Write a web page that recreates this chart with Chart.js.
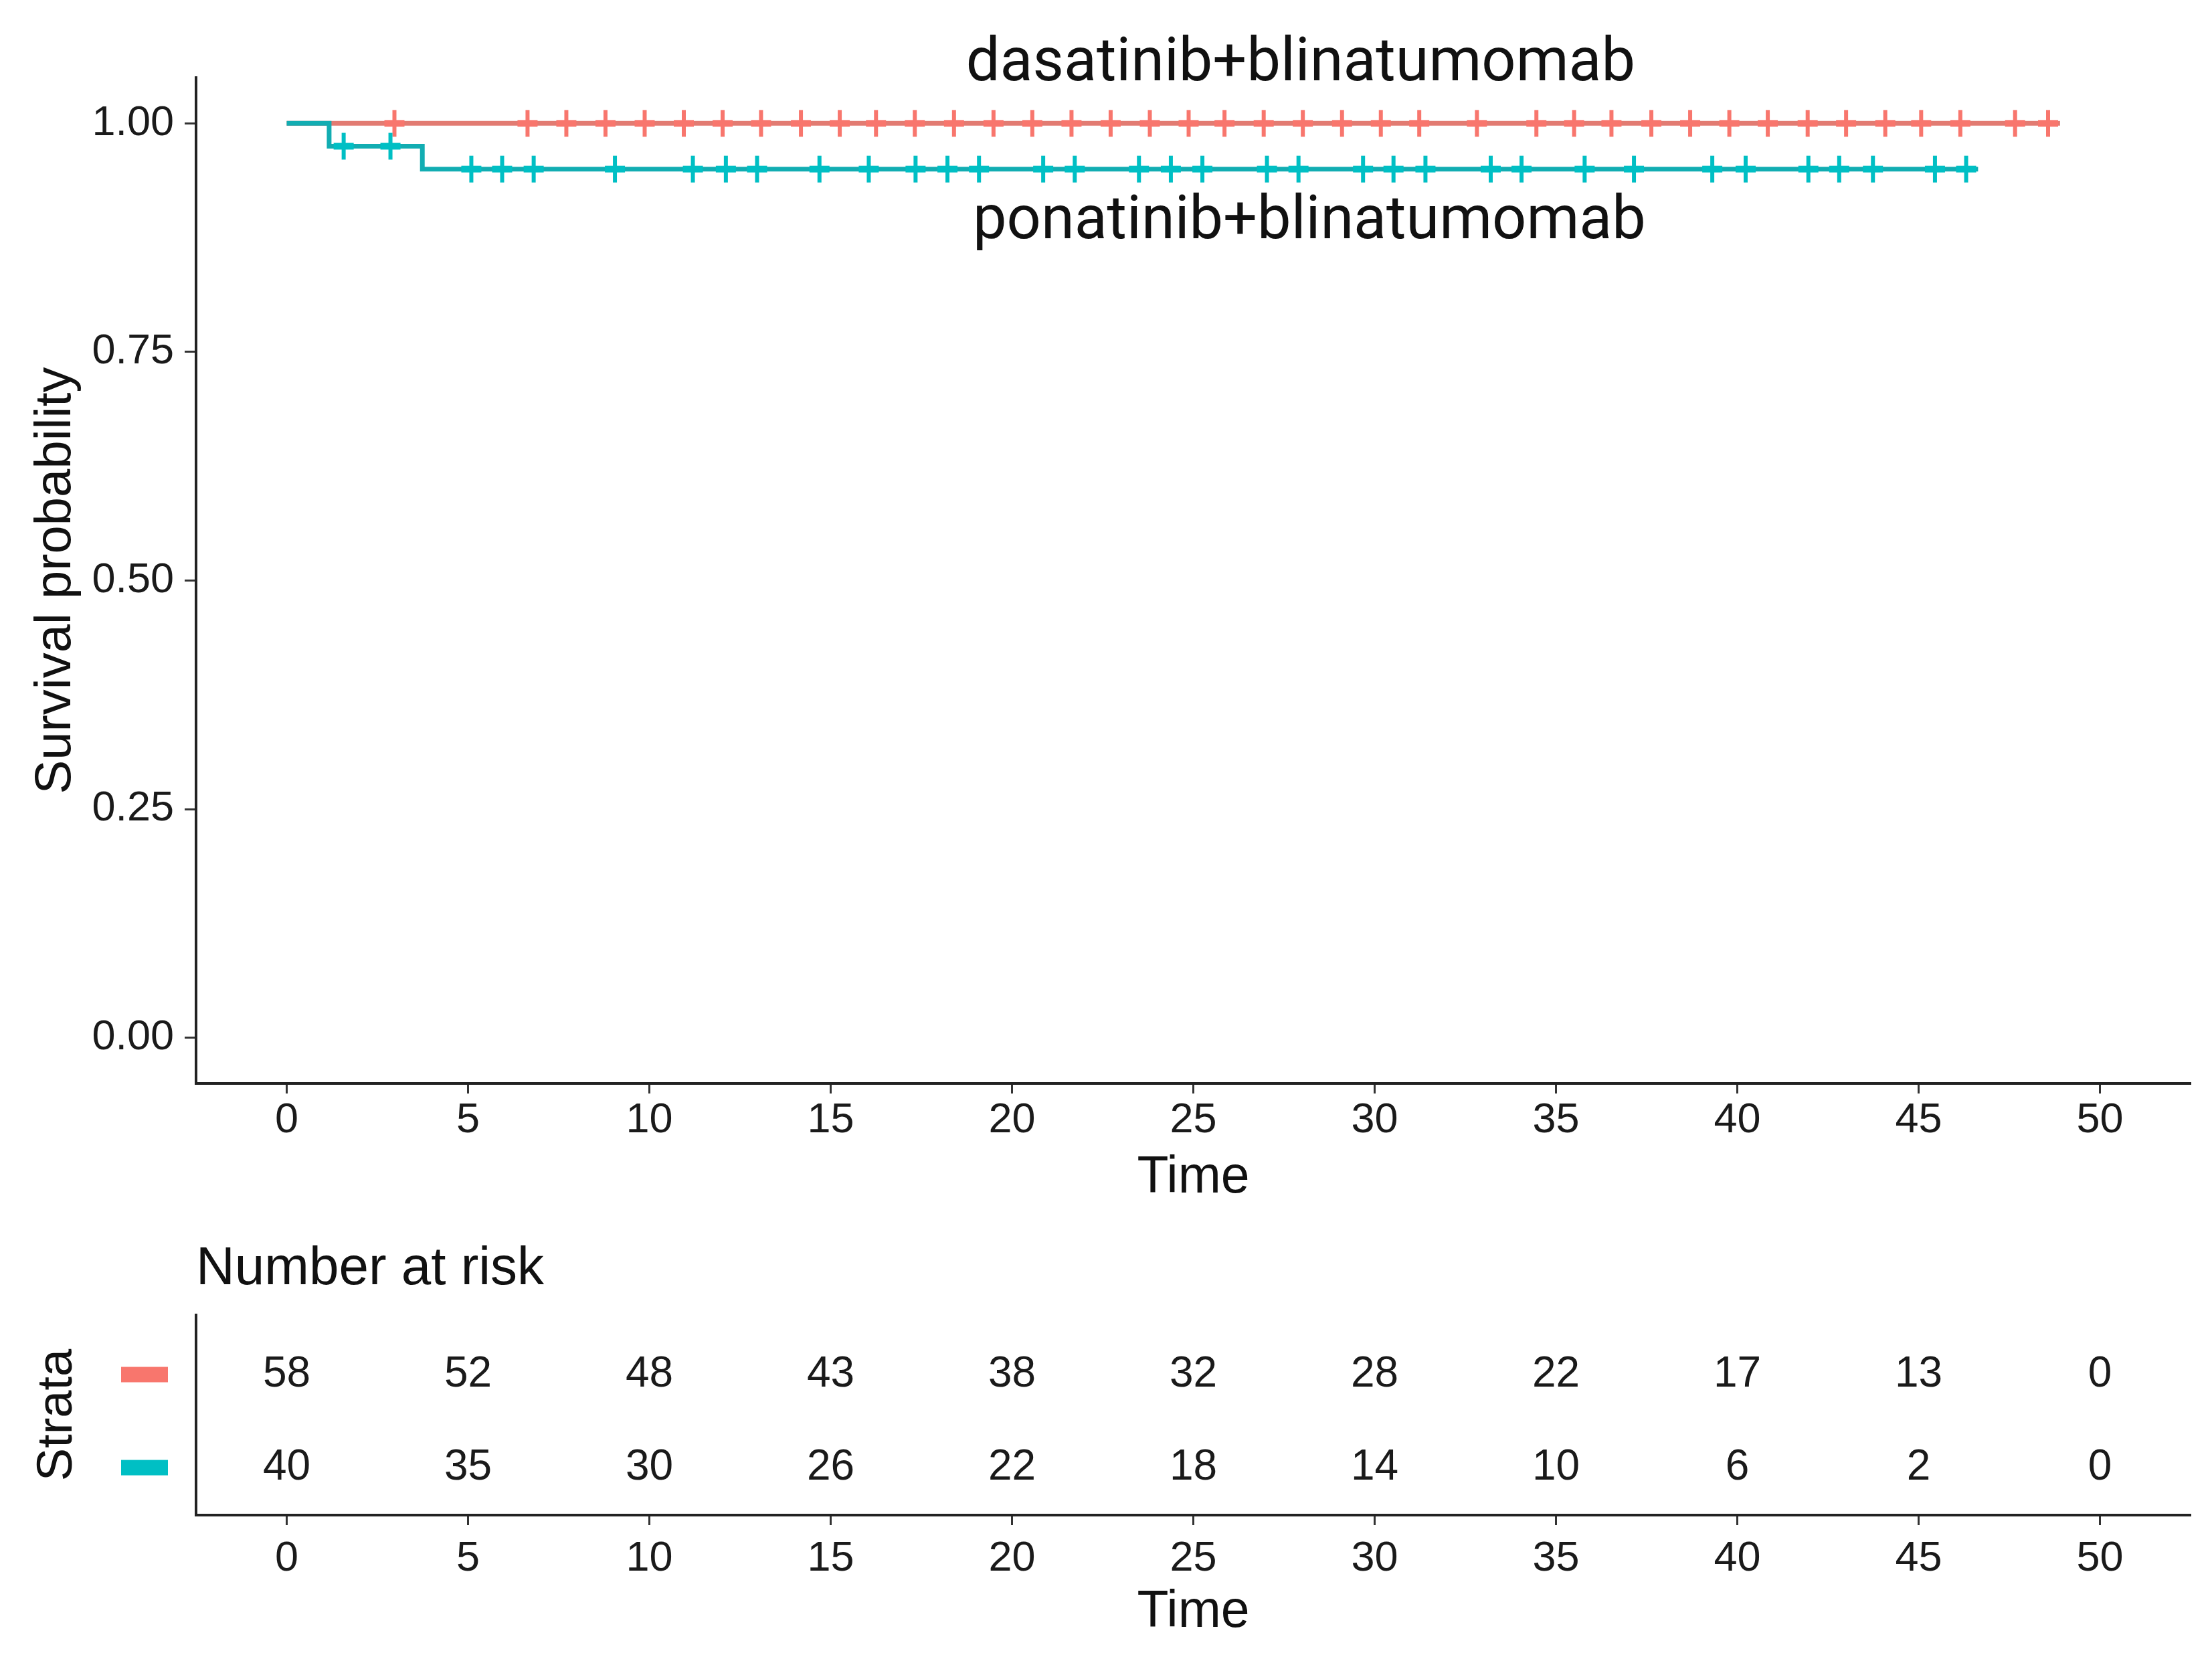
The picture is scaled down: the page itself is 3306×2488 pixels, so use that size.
<!DOCTYPE html>
<html><head><meta charset="utf-8">
<script src="https://cdn.jsdelivr.net/npm/chart.js@4.4.1/dist/chart.umd.min.js"></script>
<style>
html,body{margin:0;padding:0;background:#fff;}
body{width:3306px;height:2488px;position:relative;overflow:hidden;}
#km{position:absolute;left:0;top:0;}
#risk{position:absolute;left:0;top:1820px;}
</style></head><body>
<canvas id="km" width="3306" height="1820"></canvas>
<canvas id="risk" width="3306" height="668"></canvas>
<script>
// ---- data ----
const strata = ['dasatinib+blinatumomab', 'ponatinib+blinatumomab'];
const timeTicks = [0, 5, 10, 15, 20, 25, 30, 35, 40, 45, 50];
const survTicks = [0, 0.25, 0.5, 0.75, 1];
const survTickLabels = ['0.00', '0.25', '0.50', '0.75', '1.00'];
const dasTimes = [0, 48.9];
const dasSurv = [1, 1];
const ponTimes = [0, 1.17, 3.74, 46.64];
const ponSurv = [1, 0.975, 0.95, 0.95];
const dasCensor = [2.97, 6.64, 7.71, 8.79, 9.87, 10.95, 12.02, 13.08, 14.18, 15.25, 16.25, 17.32, 18.40, 19.49, 20.56, 21.64, 22.72, 23.80, 24.87, 25.86, 26.94, 28.02, 29.10, 30.17, 31.23, 32.82, 34.46, 35.50, 36.53, 37.63, 38.70, 39.78, 40.84, 41.94, 43.00, 44.08, 45.07, 46.15, 47.66, 48.57];
const ponCensor = [1.57, 2.86, 5.09, 5.94, 6.81, 9.05, 11.20, 12.11, 12.97, 14.69, 16.05, 17.34, 18.22, 19.09, 20.86, 21.73, 23.50, 24.38, 25.25, 27.03, 27.90, 29.68, 30.52, 31.40, 33.20, 34.05, 35.79, 37.15, 39.31, 40.23, 41.96, 42.81, 43.74, 45.45, 46.31];
const riskTimes = [0, 5, 10, 15, 20, 25, 30, 35, 40, 45, 50];
const riskDas = [58, 52, 48, 43, 38, 32, 28, 22, 17, 13, 0];
const riskPon = [40, 35, 30, 26, 22, 18, 14, 10, 6, 2, 0];

// ---- styles ----
const markColors = ['#F8766D', '#00BFC4'];
const lineColors = ['#E27B72', '#12ADB2'];
const FONT = "'Liberation Sans', Arial, sans-serif";
const TXT = '#1a1a1a';

function survAt(times, surv, t) {
  let s = surv[0];
  for (let i = 0; i < times.length; i++) if (times[i] <= t) s = surv[i];
  return s;
}
function plusMark(color) {
  const c = document.createElement('canvas');
  c.width = 34; c.height = 42;
  const g = c.getContext('2d');
  g.fillStyle = color;
  g.fillRect(2, 16, 30, 10);
  g.fillRect(14, 1, 6, 40);
  return c;
}

const xAxis = (h, tickPad, titlePad) => ({
  type: 'linear', min: -2.5, max: 52.5,
  afterBuildTicks: s => { s.ticks = timeTicks.map(v => ({ value: v })); },
  afterFit: s => { s.height = h; },
  ticks: { font: { family: FONT, size: 63 }, color: TXT, padding: tickPad, maxRotation: 0, autoSkip: false },
  grid: { display: true, drawOnChartArea: false, drawTicks: true, tickLength: 15, tickWidth: 3, tickColor: '#333' },
  border: { display: true, color: '#222', width: 4 },
  title: { display: true, text: 'Time', color: '#111', font: { family: FONT, size: 77 }, padding: { top: 0, bottom: titlePad } }
});

const labelPos = [{ x: 27.96, y: 1.047 }, { x: 28.2, y: 0.874 }];
const groupLabelPlugin = {
  id: 'groupLabels',
  afterDatasetsDraw(chart) {
    const { ctx, scales: { x, y } } = chart;
    ctx.save();
    ctx.font = "400 90px Roboto, 'Open Sans', sans-serif";
    ctx.fillStyle = '#111';
    ctx.textAlign = 'center';
    ctx.textBaseline = 'alphabetic';
    labelPos.forEach((p, i) => ctx.fillText(strata[i], x.getPixelForValue(p.x), y.getPixelForValue(p.y)));
    ctx.restore();
  }
};

new Chart(document.getElementById('km'), {
  type: 'scatter',
  data: {
    datasets: [
      { label: strata[0], data: dasTimes.map((t, i) => ({ x: t, y: dasSurv[i] })), showLine: true, stepped: 'before',
        borderColor: lineColors[0], borderWidth: 7, pointRadius: 0, fill: false, order: 3 },
      { label: strata[1], data: ponTimes.map((t, i) => ({ x: t, y: ponSurv[i] })), showLine: true, stepped: 'before',
        borderColor: lineColors[1], borderWidth: 7, pointRadius: 0, fill: false, order: 2 },
      { label: strata[0] + ' censored', data: dasCensor.map(t => ({ x: t, y: survAt(dasTimes, dasSurv, t) })),
        pointStyle: plusMark(markColors[0]), pointRadius: 20, showLine: false, order: 1 },
      { label: strata[1] + ' censored', data: ponCensor.map(t => ({ x: t, y: survAt(ponTimes, ponSurv, t) })),
        pointStyle: plusMark(markColors[1]), pointRadius: 20, showLine: false, order: 0 }
    ]
  },
  options: {
    responsive: false, animation: false, devicePixelRatio: 1,
    layout: { padding: { top: 116, right: 32, left: 0, bottom: 0 } },
    plugins: { legend: { display: false }, tooltip: { enabled: false }, title: { display: false } },
    scales: {
      x: xAxis(201, 3, 13),
      y: {
        type: 'linear', min: -0.05, max: 1.05,
        afterBuildTicks: s => { s.ticks = survTicks.map(v => ({ value: v })); },
        afterFit: s => { s.width = 293; },
        ticks: { font: { family: FONT, size: 63 }, color: TXT, padding: 16,
                 callback: v => survTickLabels[survTicks.indexOf(v)] },
        grid: { display: true, drawOnChartArea: false, drawTicks: true, tickLength: 17, tickWidth: 3, tickColor: '#333' },
        border: { display: true, color: '#222', width: 4 },
        title: { display: true, text: 'Survival probability', color: '#111', font: { family: FONT, size: 76 }, padding: { top: 38, bottom: 0 } }
      }
    }
  },
  plugins: [groupLabelPlugin]
});

// ---- risk table ----
const riskPlugin = {
  id: 'riskText',
  afterDatasetsDraw(chart) {
    const { ctx, scales: { y } } = chart;
    ctx.save();
    ctx.font = `64px ${FONT}`;
    ctx.textAlign = 'center';
    ctx.textBaseline = 'middle';
    chart.data.datasets.forEach((ds, di) => {
      const meta = chart.getDatasetMeta(di);
      ctx.fillStyle = TXT;
      meta.data.forEach((el, i) => ctx.fillText(String(ds.risk[i]), el.x, el.y));
      const yp = y.getPixelForValue(di + 1);
      ctx.fillStyle = markColors[di];
      ctx.fillRect(181, yp - 11.5, 70, 23);
    });
    ctx.restore();
  }
};

new Chart(document.getElementById('risk'), {
  type: 'scatter',
  data: {
    datasets: [
      { label: strata[0], data: riskTimes.map(t => ({ x: t, y: 1 })), risk: riskDas, pointRadius: 0 },
      { label: strata[1], data: riskTimes.map(t => ({ x: t, y: 2 })), risk: riskPon, pointRadius: 0 }
    ]
  },
  options: {
    responsive: false, animation: false, devicePixelRatio: 1,
    layout: { padding: { top: 0, right: 32, left: 0, bottom: 0 } },
    plugins: {
      legend: { display: false }, tooltip: { enabled: false },
      title: { display: true, text: 'Number at risk', align: 'start', fullSize: false, color: '#111',
               font: { family: FONT, size: 80, weight: 'normal' }, padding: { top: 29, bottom: 20 } }
    },
    scales: {
      x: xAxis(224, 13, 32),
      y: {
        type: 'linear', reverse: true, min: 0.36, max: 2.51,
        afterFit: s => { s.width = 293; },
        ticks: { display: false },
        grid: { display: false },
        border: { display: true, color: '#222', width: 4 },
        title: { display: true, text: 'Strata', color: '#111', font: { family: FONT, size: 74 }, padding: { top: 42, bottom: 0 } }
      }
    }
  },
  plugins: [riskPlugin]
});
</script>
</body></html>
